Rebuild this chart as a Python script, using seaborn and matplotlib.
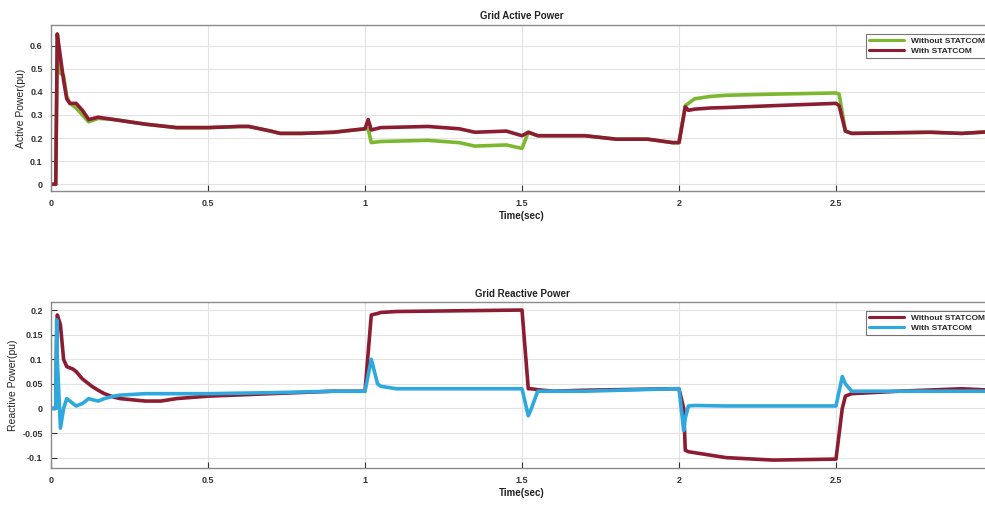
import numpy as np
import pandas as pd
import matplotlib
matplotlib.use('Agg')
import matplotlib.pyplot as plt
import seaborn as sns

# 有功功率 - 时间点与数值
t_p = [0, 0.015, 0.02, 0.03, 0.04, 0.05, 0.06, 0.08, 0.1, 0.12, 0.15, 0.2, 0.3, 0.4, 0.5,
       0.6, 0.63, 0.7, 0.73, 0.8, 0.9, 1.0, 1.01, 1.02, 1.05, 1.2, 1.3, 1.35, 1.45, 1.5,
       1.52, 1.55, 1.7, 1.8, 1.9, 1.98, 2.0, 2.02, 2.03, 2.05, 2.1, 2.15, 2.3, 2.5, 2.51,
       2.53, 2.55, 2.8, 2.9, 3.0]
p_without = [0, 0, 0.65, 0.48, 0.47, 0.38, 0.35, 0.33, 0.3, 0.27, 0.285, 0.28, 0.26, 0.245, 0.245,
             0.25, 0.25, 0.23, 0.22, 0.22, 0.225, 0.24, 0.24, 0.18, 0.185, 0.19, 0.18, 0.165, 0.17, 0.155,
             0.225, 0.21, 0.21, 0.195, 0.195, 0.18, 0.18, 0.34, 0.35, 0.37, 0.38, 0.385, 0.39, 0.395, 0.39,
             0.23, 0.22, 0.225, 0.22, 0.228]
p_with = [0, 0, 0.65, 0.55, 0.45, 0.37, 0.35, 0.35, 0.32, 0.28, 0.29, 0.28, 0.26, 0.245, 0.245,
          0.25, 0.25, 0.23, 0.22, 0.22, 0.225, 0.24, 0.28, 0.235, 0.245, 0.25, 0.24, 0.225, 0.23, 0.21,
          0.225, 0.21, 0.21, 0.195, 0.195, 0.18, 0.18, 0.335, 0.32, 0.325, 0.33, 0.332, 0.34, 0.35, 0.34,
          0.23, 0.22, 0.225, 0.22, 0.228]

# 无功功率
t_q = [0, 0.015, 0.018, 0.02, 0.03, 0.04, 0.05, 0.07, 0.08, 0.1, 0.12, 0.13, 0.15, 0.17, 0.2,
       0.22, 0.3, 0.35, 0.4, 0.5, 0.7, 0.9, 1.0, 1.02, 1.04, 1.05, 1.1, 1.5, 1.52, 1.53, 1.55,
       1.6, 1.7, 1.98, 2.0, 2.015, 2.02, 2.03, 2.05, 2.15, 2.3, 2.5, 2.52, 2.53, 2.55, 2.7, 2.9, 3.0]
q_without = [0, 0, 0.15, 0.19, 0.17, 0.1, 0.085, 0.08, 0.075, 0.06, 0.05, 0.045, 0.037, 0.03, 0.023,
             0.02, 0.015, 0.015, 0.02, 0.025, 0.03, 0.035, 0.035, 0.19, 0.193, 0.195, 0.197, 0.2, 0.04, 0.04, 0.038,
             0.035, 0.037, 0.04, 0.04, 0.0, -0.085, -0.088, -0.09, -0.1, -0.105, -0.103, 0.0, 0.025, 0.03,
             0.035, 0.04, 0.037]
q_with = [0, 0, 0.18, 0.1, -0.04, 0.0, 0.02, 0.01, 0.005, 0.01, 0.02, 0.018, 0.015, 0.02, 0.025,
          0.027, 0.03, 0.03, 0.03, 0.03, 0.032, 0.035, 0.035, 0.1, 0.05, 0.045, 0.04, 0.04, -0.015, 0.0, 0.035,
          0.035, 0.035, 0.04, 0.04, -0.045, -0.02, 0.005, 0.006, 0.005, 0.005, 0.005, 0.065, 0.05, 0.035,
          0.035, 0.035, 0.035]

GREEN = '#7cb82f'
RED = '#8c1c32'
BLUE = '#2ea9df'

sns.set_style('whitegrid')
plt.rcParams['font.family'] = ['Liberation Sans', 'DejaVu Sans']
plt.rcParams['font.weight'] = 'bold'

df_p = pd.DataFrame({'t': t_p * 2, 'v': p_without + p_with,
                     's': ['Without STATCOM'] * len(t_p) + ['With STATCOM'] * len(t_p)})
df_q = pd.DataFrame({'t': t_q * 2, 'v': q_without + q_with,
                     's': ['Without STATCOM'] * len(t_q) + ['With STATCOM'] * len(t_q)})

fig = plt.figure(figsize=(9.85, 5.07), dpi=100)
ax1 = fig.add_axes([0.0518, 0.623, 0.9563, 0.328])
ax2 = fig.add_axes([0.0518, 0.077, 0.9563, 0.327])


def style_axes(ax, title, ylabel, yticks, yticklabels, ylim):
    ax.set_xlim(0, 3)
    ax.set_ylim(*ylim)
    ax.set_xticks([0, 0.5, 1, 1.5, 2, 2.5])
    ax.set_xticklabels(['0', '0.5', '1', '1.5', '2', '2.5'])
    ax.set_yticks(yticks)
    ax.set_yticklabels(yticklabels)
    ax.tick_params(direction='in', length=4, labelsize=6.5, colors='#333333', pad=6,
                   left=True, bottom=True)
    ax.grid(True, color='#e2e2e2', linewidth=0.8)
    for sp in ax.spines.values():
        sp.set_color('#8a8a8a')
        sp.set_linewidth(1.0)
    ax.set_title(title, fontsize=7, fontweight='bold', color='#222222', pad=4)
    ax.set_xlabel('Time(sec)', fontsize=7, fontweight='bold', color='#222222', labelpad=2)
    ax.set_ylabel(ylabel, fontsize=7.5, fontweight='normal', color='#222222', labelpad=3)
    leg = ax.legend(loc='upper right', fontsize=6, handlelength=4.2, frameon=True,
                    fancybox=False, borderpad=0.35, labelspacing=0.25,
                    bbox_to_anchor=(0.9985, 0.97))
    leg.get_frame().set_edgecolor('#555555')
    leg.get_frame().set_linewidth(0.8)
    for line in leg.get_lines():
        line.set_linewidth(2.2)


sns.lineplot(data=df_p, x='t', y='v', hue='s', palette={'Without STATCOM': GREEN, 'With STATCOM': RED},
             hue_order=['Without STATCOM', 'With STATCOM'], linewidth=2.6, ax=ax1, estimator=None, sort=False)
style_axes(ax1, 'Grid Active Power', 'Active Power(pu)',
           [0, 0.1, 0.2, 0.3, 0.4, 0.5, 0.6], ['0', '0.1', '0.2', '0.3', '0.4', '0.5', '0.6'],
           (-0.03, 0.69))

sns.lineplot(data=df_q, x='t', y='v', hue='s', palette={'Without STATCOM': RED, 'With STATCOM': BLUE},
             hue_order=['Without STATCOM', 'With STATCOM'], linewidth=2.6, ax=ax2, estimator=None, sort=False)
style_axes(ax2, 'Grid Reactive Power', 'Reactive Power(pu)',
           [-0.1, -0.05, 0, 0.05, 0.1, 0.15, 0.2], ['-0.1', '-0.05', '0', '0.05', '0.1', '0.15', '0.2'],
           (-0.121, 0.216))

fig.savefig('out.png', dpi=100)
